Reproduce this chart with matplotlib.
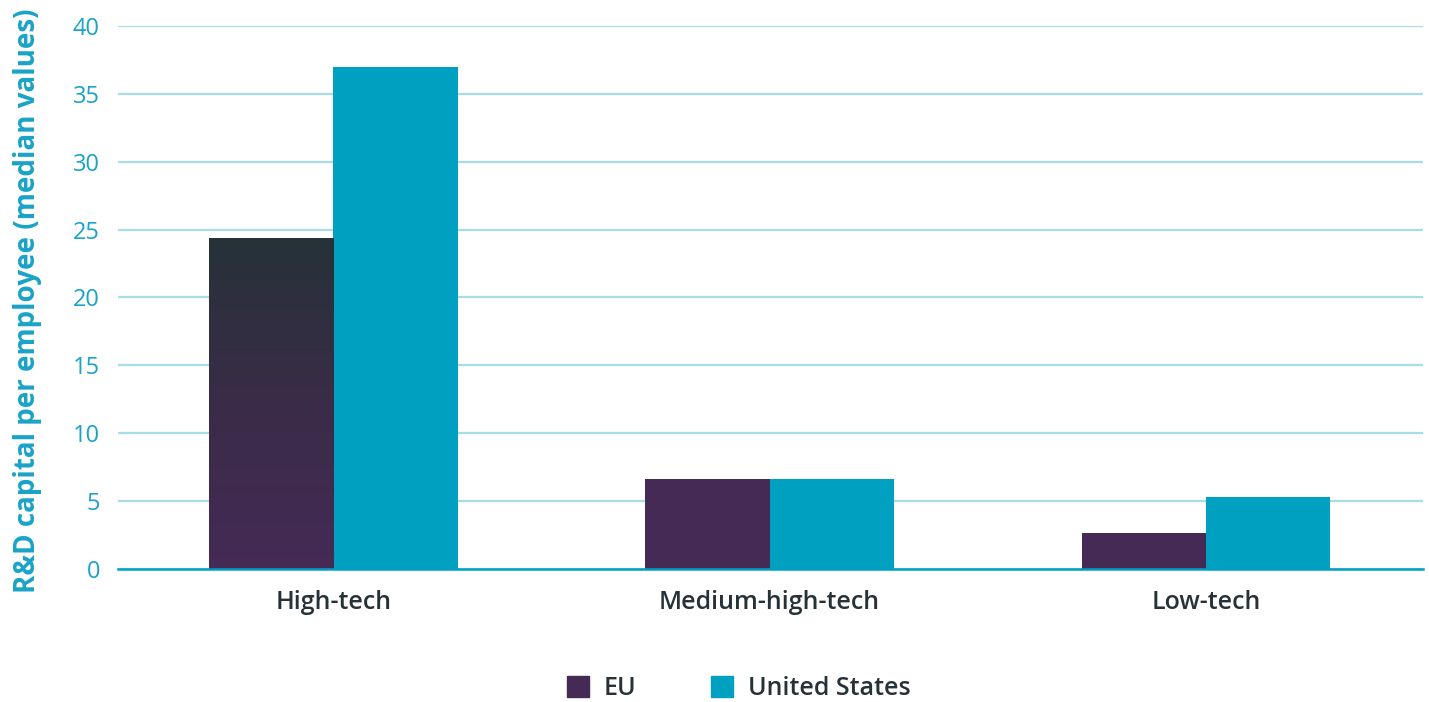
import numpy as np
import matplotlib
matplotlib.use("Agg")
import matplotlib.pyplot as plt
from matplotlib.colors import LinearSegmentedColormap
from matplotlib.patches import Patch

# data
categories = ["High-tech", "Medium-high-tech", "Low-tech"]
eu = [24.4, 6.65, 2.65]
us = [37.0, 6.65, 5.3]
series_names = ["EU", "United States"]

purple = "#452a55"
dark = "#263238"
cyan = "#00a0c0"
grid_c = "#a9dce9"
tick_c = "#1aa3c7"
text_c = "#263238"

plt.rcParams["font.family"] = ["Open Sans", "DejaVu Sans"]

fig = plt.figure(figsize=(14.29, 7.02), dpi=100)
ax = fig.add_axes([0.0826, 0.1895, 0.9132, 0.7735])

x = np.arange(len(categories))
w = 0.285
b_eu = ax.bar(x - w / 2, eu, w, color=purple, zorder=3)
b_us = ax.bar(x + w / 2, us, w, color=cyan, zorder=3)

# gradient on the tall EU bar
cmap = LinearSegmentedColormap.from_list("eu", [purple, "#3a2c48", dark])
grad = np.linspace(0, 1, 256).reshape(-1, 1)
bar0 = b_eu[0]
im = ax.imshow(grad, cmap=cmap, aspect="auto", origin="lower", zorder=4,
               extent=(bar0.get_x(), bar0.get_x() + bar0.get_width(), 0, bar0.get_height()))
im.set_clip_path(bar0)

ax.set_xlim(-0.493, 2.497)
ax.set_ylim(0, 40)
ax.set_yticks(range(0, 41, 5))
ax.yaxis.grid(True, color=grid_c, lw=1.6, zorder=0)
ax.set_axisbelow(True)
for s in ["top", "right", "left"]:
    ax.spines[s].set_visible(False)
ax.spines["bottom"].set_color(cyan)
ax.spines["bottom"].set_linewidth(1.8)
ax.spines["bottom"].set_zorder(5)

ax.set_xticks(x)
ax.set_xticklabels(categories, fontsize=18, fontweight="semibold", color=text_c)
ax.tick_params(axis="x", length=0, pad=15)
ax.tick_params(axis="y", length=0, pad=13, labelsize=17, labelcolor=tick_c)
ax.set_ylabel("R&D capital per employee (median values)", fontsize=20,
              fontweight="bold", color=tick_c)
ax.yaxis.set_label_coords(-0.058, 0.494)

handles = [Patch(color=purple), Patch(color=cyan)]
leg = fig.legend(handles, series_names, loc="center", bbox_to_anchor=(0.517, 0.019),
                 ncol=2, frameon=False, fontsize=18, handlelength=0.88, handleheight=0.88,
                 columnspacing=3.0, handletextpad=0.6)
for t in leg.get_texts():
    t.set_color(text_c)
    t.set_fontweight("semibold")

# gradient in the EU legend swatch
fig.canvas.draw()
bb = leg.legend_handles[0].get_window_extent().transformed(fig.transFigure.inverted())
lax = fig.add_axes([bb.x0, bb.y0, bb.width, bb.height])
lax.imshow(grad, cmap=cmap, aspect="auto", origin="lower")
lax.axis("off")

fig.savefig("out.png", dpi=100)
